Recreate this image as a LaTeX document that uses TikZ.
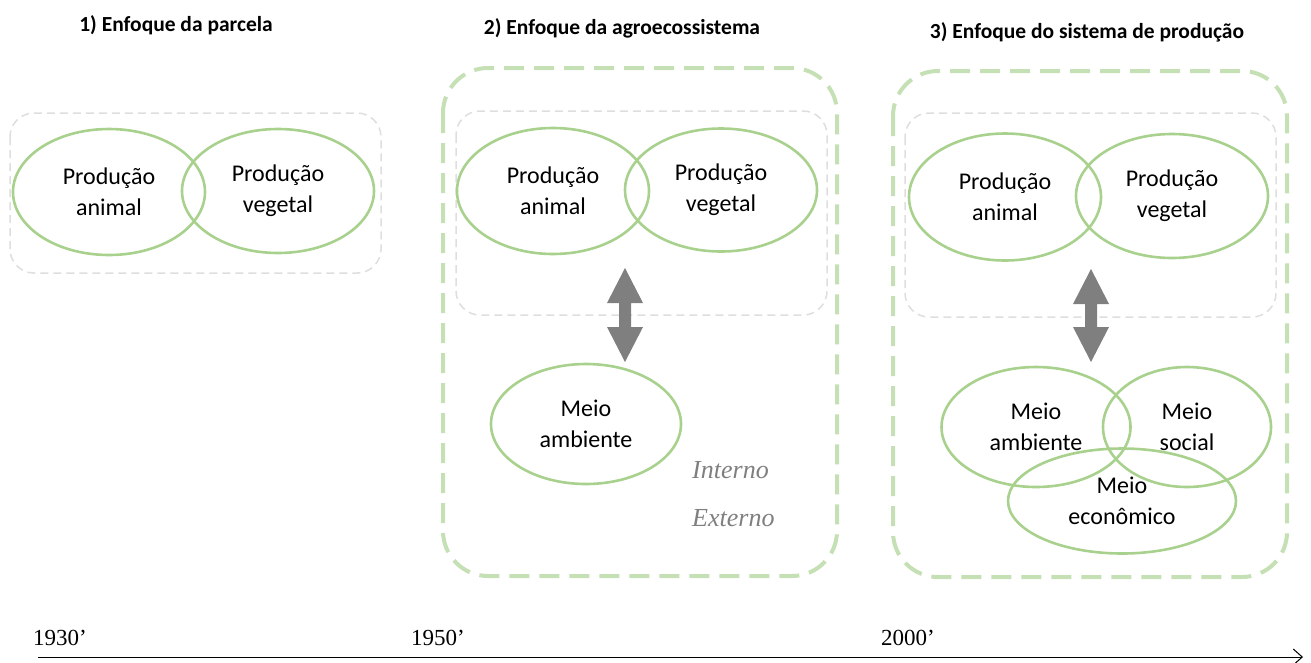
\documentclass[tikz,border=0pt]{standalone}
\usepackage{fontspec}
\setmainfont{Carlito}
\newfontfamily\timesfont{Liberation Serif}
\usetikzlibrary{shapes.geometric,arrows.meta}
\definecolor{ringgreen}{HTML}{A9D18E}
\definecolor{framegreen}{HTML}{C5E0B4}
\definecolor{boxgray}{HTML}{DEDEDE}
\definecolor{arrowgray}{HTML}{7F7F7F}

\begin{document}
\begin{tikzpicture}[x=1pt,y=-1pt,
  ring/.style={ellipse, draw=ringgreen, line width=2.6pt, inner sep=0pt,
    align=center, font=\fontsize{24}{31}\selectfont},
  frame/.style={draw=framegreen, line width=4pt, dash pattern=on 20pt off 10pt,
    rounded corners=45pt},
  core/.style={draw=boxgray, line width=1.5pt, dash pattern=on 8pt off 5pt,
    rounded corners=24pt},
  heading/.style={font=\bfseries\fontsize{21.5}{24}\selectfont, inner sep=0pt},
  year/.style={font=\timesfont\fontsize{23}{24}\selectfont, inner sep=0pt},
  side/.style={font=\timesfont\itshape\fontsize{26}{28}\selectfont,
    text=arrowgray, inner sep=0pt},
  link/.style={fill=arrowgray}
]
\useasboundingbox (0,0) rectangle (1311,662);

% ---- 1) plot approach ----
\node[heading] (t1) at (176,25) {1) Enfoque da parcela};
\draw[core] (10,113) rectangle (381,273);
\node[ring, minimum width=192pt, minimum height=126pt] (a1) at (109,192) {Produção\\animal};
\node[ring, minimum width=192pt, minimum height=124pt] (v1) at (278,191) {Produção\\vegetal};

% ---- 2) agroecosystem approach ----
\node[heading] (t2) at (622,28) {2) Enfoque da agroecossistema};
\draw[frame] (443,68) rectangle (837,576);
\draw[core] (456,111) rectangle (827,315);
\node[ring, minimum width=192pt, minimum height=126pt] (a2) at (553,191) {Produção\\animal};
\node[ring, minimum width=192pt, minimum height=123pt] (v2) at (721,190) {Produção\\vegetal};
\node[ring, minimum width=190pt, minimum height=120pt] (m2) at (586,424) {Meio\\ambiente};
\fill[link] (625,268) -- (643,303) -- (631,303) -- (631,327) -- (643,327) -- (625,362)
  -- (607,327) -- (619,327) -- (619,303) -- (607,303) -- cycle;
\node[side, anchor=west] (in2) at (692,470) {Interno};
\node[side, anchor=west] (ex2) at (692,518) {Externo};

% ---- 3) production system approach ----
\node[heading] (t3) at (1087,32) {3) Enfoque do sistema de produção};
\draw[frame] (893,71) rectangle (1287,577);
\draw[core] (905,113) rectangle (1276,317);
\node[ring, minimum width=192pt, minimum height=127pt] (a3) at (1005,197) {Produção\\animal};
\node[ring, minimum width=192pt, minimum height=124pt] (v3) at (1172,196) {Produção\\vegetal};
\fill[link] (1091,269) -- (1109,304) -- (1097,304) -- (1097,327) -- (1109,327) -- (1091,362)
  -- (1073,327) -- (1085,327) -- (1085,304) -- (1073,304) -- cycle;
\node[ring, minimum width=189pt, minimum height=120pt] (m3) at (1036,427) {Meio\\ambiente};
\node[ring, minimum width=168pt, minimum height=120pt] (s3) at (1187,427) {Meio\\social};
\node[ring, minimum width=228pt, minimum height=105pt] (e3) at (1122,501) {Meio\\econômico};

% ---- time axis ----
\node[year, anchor=west] (y1) at (33,638) {1930’};
\node[year, anchor=west] (y2) at (411,638) {1950’};
\node[year, anchor=west] (y3) at (881,638) {2000’};
\coordinate (axs) at (38,657);
\coordinate (axe) at (1303,657);
\draw[line width=1pt, -{Straight Barb[length=9pt,width=16pt]}] (axs) -- (axe);
\end{tikzpicture}
\end{document}
